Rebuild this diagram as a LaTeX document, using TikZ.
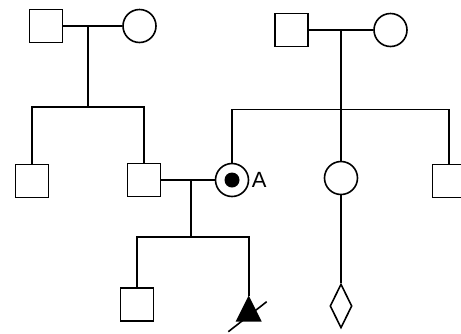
\documentclass[tikz,border=0pt]{standalone}
\usepackage{fontspec}
\setmainfont{Liberation Sans}
\usetikzlibrary{shapes.geometric}
\begin{document}
\begin{tikzpicture}[x=1pt,y=-1pt,line width=1.6pt,label distance=-1.5pt]
    \tikzstyle{male}=[draw,rectangle,minimum size=33pt,inner sep=0pt];
    \tikzstyle{female}=[draw,circle,minimum size=33pt,inner sep=0pt];
    \tikzstyle{unknown}=[draw,diamond,minimum width=22pt,minimum height=44pt,inner sep=0pt];
    \tikzstyle{every label}=[font=\fontsize{22}{26}\selectfont];
    \clip (0,0) rectangle (461,333);

    % first couple and their sons
    \node at (46, 26)    (fa1) [male] {};
    \node at (139.5, 26) (mo1) [female] {};
    \coordinate (m1) at (88, 26);
    \coordinate (j1) at (88, 107);
    \node at (32, 181)   (s1) [male] {};
    \node at (144, 180)  (s2) [male] {};
    \draw (fa1) -- (mo1);
    \draw (m1) -- (j1);
    \draw (s1) |- (j1) -| (s2);

    % second couple and their children
    \node at (291.5, 30) (fa2) [male] {};
    \node at (390.5, 30) (mo2) [female] {};
    \coordinate (m2) at (341, 30);
    \coordinate (j2) at (341, 109.5);
    \node at (232, 180)  (A) [female,label=right:A] {};
    \node at (341, 178)  (d2) [female] {};
    \node at (449, 181)  (s3) [male] {};
    \draw (fa2) -- (mo2);
    \draw (m2) -- (j2);
    \draw (A) |- (j2) -| (s3);
    \draw (j2) -- (d2);
    \fill (A.center) circle [radius=7.5];

    % pregnancy of unknown sex
    \node at (341, 306)  (u1) [unknown] {};
    \draw (d2) -- (u1);

    % third couple and their children
    \coordinate (m3) at (191, 180);
    \coordinate (j3) at (191, 237);
    \node at (137, 304.5) (s4) [male] {};
    \coordinate (t1) at (248.7, 295.5);
    \draw (s2) -- (A);
    \draw (m3) -- (j3);
    \draw (s4) |- (j3) -| (t1);
    \fill (t1) -- ++(13, 26) -- ++(-26, 0) -- cycle;
    \draw (228.3, 331.7) -- (266.7, 301.7);
\end{tikzpicture}
\end{document}
